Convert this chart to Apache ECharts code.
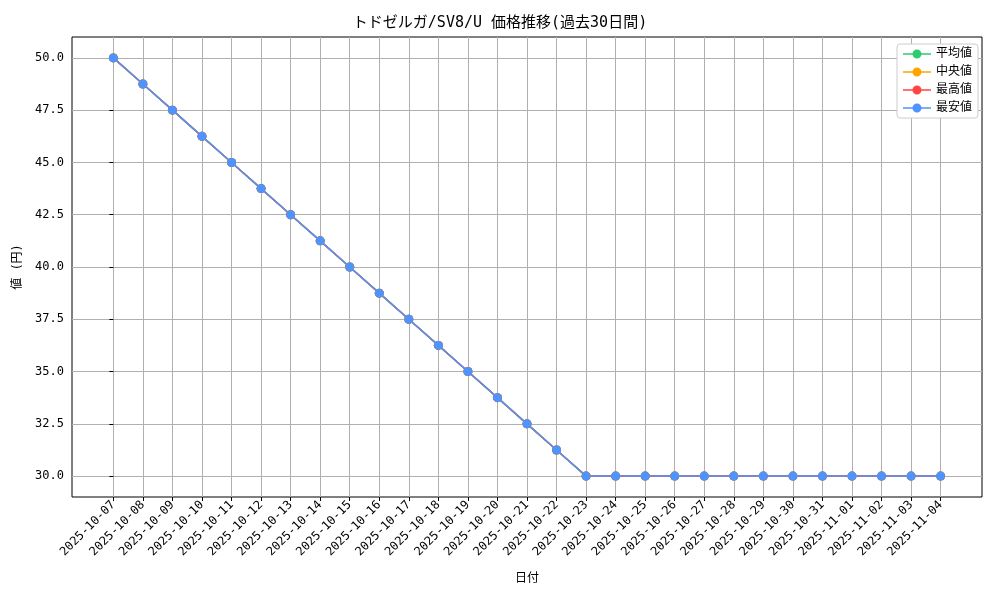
<!DOCTYPE html>
<html><head><meta charset="utf-8">
<script src="https://cdn.jsdelivr.net/npm/echarts@6/dist/echarts.min.js"></script>
<style>html,body{margin:0;padding:0}#c{width:1000px;height:600px}</style>
</head><body><div id="c"></div>
<script>
const dates = ["2025-10-07","2025-10-08","2025-10-09","2025-10-10","2025-10-11","2025-10-12","2025-10-13","2025-10-14","2025-10-15","2025-10-16","2025-10-17","2025-10-18","2025-10-19","2025-10-20","2025-10-21","2025-10-22","2025-10-23","2025-10-24","2025-10-25","2025-10-26","2025-10-27","2025-10-28","2025-10-29","2025-10-30","2025-10-31","2025-11-01","2025-11-02","2025-11-03","2025-11-04"];
const avgVals = [50,48.75,47.5,46.25,45,43.75,42.5,41.25,40,38.75,37.5,36.25,35,33.75,32.5,31.25,30,30,30,30,30,30,30,30,30,30,30,30,30];
const medVals = avgVals.slice();
const maxVals = avgVals.slice();
const minVals = avgVals.slice();
const yTicks = [30,32.5,35,37.5,40,42.5,45,47.5,50];
const names = ["平均値","中央値","最高値","最安値"];
const colors = ["#2ecc71","#ffa500","#ff4444","#4d94ff"];
const F = "'DejaVu Sans Mono', 'Noto Sans CJK JP', monospace";
const idx = dates.map((d,i)=>i);
const icon = 'path://M0,4.2L28,4.2L28,5.8L0,5.8Z M14,0.5A4.5,4.5 0 1 1 13.99,0.5Z';
const mk = (name,vals,c)=>({name,type:'line',data:vals.map((v,i)=>[i,v]),symbol:'circle',symbolSize:9,
  itemStyle:{color:c},lineStyle:{color:c,width:1.5},animation:false});
const chart = echarts.init(document.getElementById('c'));
chart.setOption({
  textStyle:{fontFamily:F},
  title:{text:'トドゼルガ/SV8/U 価格推移(過去30日間)',left:'center',top:11,textStyle:{fontSize:15,fontWeight:'normal',color:'#000',fontFamily:F}},
  legend:{orient:'vertical',right:22,top:44,itemGap:6,itemWidth:28,itemHeight:10,backgroundColor:'#fff',borderColor:'#ccc',borderWidth:1,borderRadius:3,padding:[4,6],
    textStyle:{fontSize:12,color:'#000',fontFamily:F},data:names.map((n,i)=>({name:n,icon:icon}))},
  grid:{left:72,right:18,top:37,bottom:103,show:true,borderColor:'#000',borderWidth:1},
  xAxis:{type:'value',min:-1.4,max:29.4,name:'日付',nameLocation:'middle',nameGap:76,nameTextStyle:{fontSize:12,color:'#000'},
    axisLine:{show:false},
    axisTick:{show:true,customValues:idx,length:4,lineStyle:{color:'#000'}},
    axisLabel:{customValues:idx,rotate:45,fontSize:12,color:'#000',margin:6,formatter:v=>dates[Math.round(v)]||''},
    splitLine:{show:true,lineStyle:{color:'#b0b0b0',width:1}}},
  yAxis:{type:'value',min:29,max:51,name:'値 (円)',nameLocation:'middle',nameGap:46,nameTextStyle:{fontSize:12,color:'#000'},
    axisLine:{show:false},
    axisTick:{show:true,customValues:yTicks,length:4,lineStyle:{color:'#000'}},
    axisLabel:{customValues:yTicks,fontSize:12,color:'#000',formatter:v=>v.toFixed(1)},
    splitLine:{show:true,lineStyle:{color:'#b0b0b0',width:1}}},
  series:[mk(names[0],avgVals,colors[0]),mk(names[1],medVals,colors[1]),mk(names[2],maxVals,colors[2]),mk(names[3],minVals,colors[3])]
});
</script></body></html>
